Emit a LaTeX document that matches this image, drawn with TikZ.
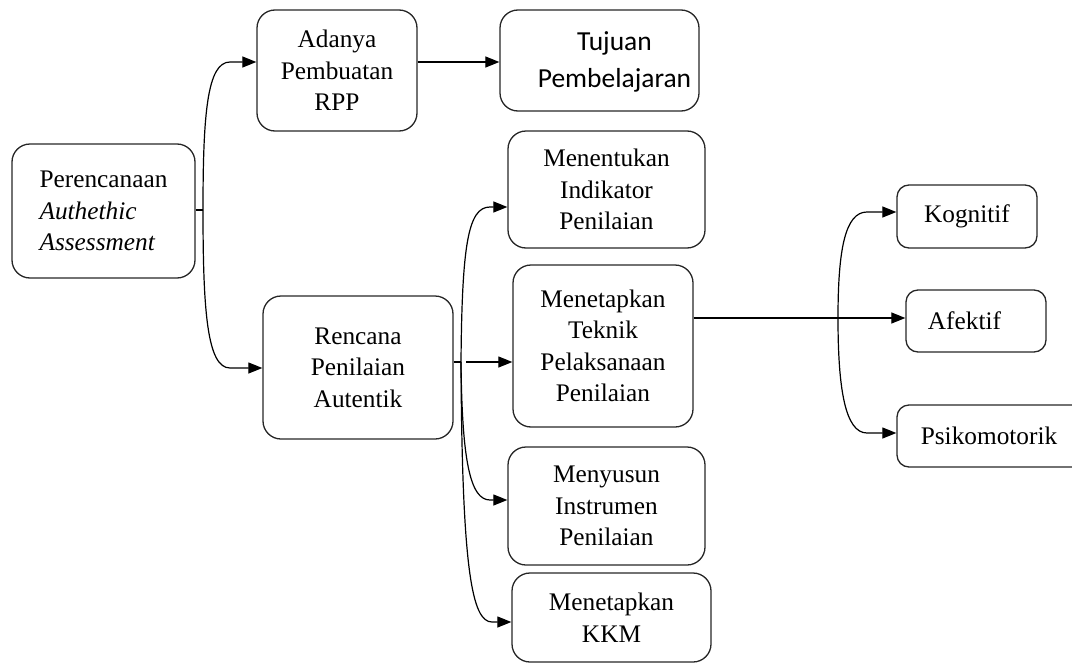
\documentclass[tikz,border=0pt]{standalone}
\usepackage{fontspec}
\setmainfont{Liberation Serif}
\newfontfamily\calib{Carlito}
\usetikzlibrary{arrows.meta}
\newcommand{\fsz}{\fontsize{25.3}{31.5}\selectfont}
\tikzset{
  box/.style={draw=black!85, line width=1.3pt, rounded corners=18pt, inner sep=0pt, align=center, font=\fsz},
  sbox/.style={box, rounded corners=12pt},
  conn/.style={line width=1.2pt, draw=black},
  arr/.style={conn, -{Triangle[length=14pt,width=11pt]}},
}
\begin{document}
\begin{tikzpicture}[x=1pt,y=-1pt]
\useasboundingbox (0,0) rectangle (1072,664);
% boxes
\node[box, minimum width=183pt, minimum height=134pt, align=left] (per) at (103.5,211) {Perencanaan\\\textit{Authethic}\\\textit{Assessment}};
\node[box, minimum width=160pt, minimum height=121pt] (rpp) at (337,70.5) {Adanya\\Pembuatan\\RPP};
\node[box, minimum width=199pt, minimum height=101pt, font=\calib\fontsize{27.5}{36.5}\selectfont] (tuj) at (599.5,60.5) {\raisebox{-27pt}[0pt][0pt]{\hspace*{30pt}\shortstack{Tujuan\\[10pt]Pembelajaran}}};
\node[box, minimum width=197pt, minimum height=117pt] (ind) at (606.5,189.5) {Menentukan\\Indikator\\Penilaian};
\node[box, minimum width=190pt, minimum height=143pt] (ren) at (358,367.5) {Rencana\\Penilaian\\Autentik};
\node[box, minimum width=180pt, minimum height=162pt] (tek) at (603,346) {Menetapkan\\Teknik\\Pelaksanaan\\Penilaian};
\node[box, minimum width=197pt, minimum height=118pt] (ins) at (606.5,506) {Menyusun\\Instrumen\\Penilaian};
\node[box, minimum width=199pt, minimum height=89pt] (kkm) at (611.5,617.5) {Menetapkan\\KKM};
\node[sbox, minimum width=140pt, minimum height=63pt] (kog) at (967,216.5) {Kognitif};
\node[sbox, minimum width=140pt, minimum height=62pt] (afe) at (976,321) {Afektif\hspace{23pt}};
\node[sbox, minimum width=188pt, minimum height=62pt] (psi) at (991,436) {Psikomotorik\hspace{4pt}};
% group 1
\coordinate (j1) at (203,210);
\coordinate (a1) at (230,62);
\coordinate (a2) at (230,368);
\draw[conn] (per.east |- j1) -- (j1);
\draw[arr] (j1) .. controls (203,115) and (207,62) .. (a1) -- (rpp.west |- a1);
\draw[arr] (j1) .. controls (203,310) and (207,368) .. (a2) -- (ren.west |- a2);
\draw[arr] (rpp.east |- 0,62) -- (tuj.west |- 0,62);
% group 2
\coordinate (j2) at (461,362);
\coordinate (b1) at (490,207);
\coordinate (b2) at (490,500);
\coordinate (b3) at (492,622);
\draw[conn] (ren.east |- j2) -- (j2);
\draw[arr] (j2) .. controls (462,245) and (468,207) .. (b1) -- (ind.west |- b1);
\draw[arr] ([xshift=5pt]j2) -- (tek.west |- j2);
\draw[arr] (j2) .. controls (462,460) and (470,500) .. (b2) -- (ins.west |- b2);
\draw[arr] (j2) .. controls (462,570) and (472,622) .. (b3) -- (kkm.west |- b3);
% group 3
\coordinate (j3) at (838,318);
\coordinate (c1) at (867,212);
\coordinate (c2) at (867,433);
\draw[arr] (tek.east |- j3) -- (afe.west |- j3);
\draw[arr] (j3) .. controls (838,250) and (845,212) .. (c1) -- (kog.west |- c1);
\draw[arr] (j3) .. controls (838,388) and (845,433) .. (c2) -- (psi.west |- c2);
\end{tikzpicture}
\end{document}
